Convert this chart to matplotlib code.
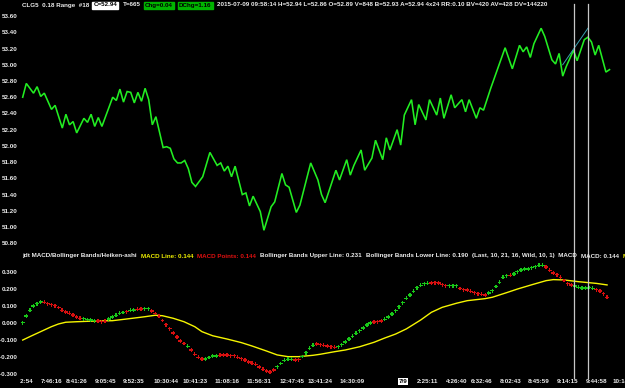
import matplotlib
matplotlib.use("Agg")
import matplotlib.pyplot as plt
import matplotlib.transforms as mtransforms
from matplotlib.lines import Line2D

plt.rcParams['font.family'] = ['Liberation Sans', 'DejaVu Sans']
plt.rcParams['font.weight'] = 'bold'

# -------------------------------
# Data (bar index = one range bar)
# -------------------------------
price_bars = [0, 1, 3, 4, 5, 6, 8, 9, 11, 12, 13, 14, 15, 17, 18, 19, 20, 21, 22,
              25, 26, 27, 28, 29, 30, 31, 32, 33, 34, 35, 36, 37, 39, 40, 41, 42, 43,
              44, 45, 46, 47, 48, 50, 52, 54, 55, 56, 57, 58, 59, 61, 62, 63, 64, 66,
              67, 69, 70, 72, 73, 74, 76, 77, 80, 82, 83, 84, 87, 88, 90, 91, 92, 94,
              95, 97, 98, 100, 101, 102, 104, 105, 106, 108, 109, 110, 112, 113, 115,
              116, 117, 119, 120, 122, 123, 124, 126, 127, 128, 130, 134, 136, 138,
              139, 140, 141, 142, 144, 145, 147, 148, 149, 150, 151, 152, 153, 154,
              156, 157, 158, 159, 160, 162, 163]
price_vals = [52.60, 52.77, 52.65, 52.73, 52.61, 52.65, 52.45, 52.50, 52.22, 52.39,
              52.26, 52.30, 52.16, 52.34, 52.29, 52.39, 52.24, 52.35, 52.24,
              52.60, 52.56, 52.70, 52.54, 52.67, 52.66, 52.53, 52.66, 52.55, 52.71,
              52.57, 52.26, 52.36, 51.98, 51.99, 51.97, 51.84, 51.79,
              51.79, 51.82, 51.72, 51.55, 51.50, 51.62, 51.92, 51.76, 51.79, 51.69,
              51.75, 51.62, 51.75, 51.40, 51.42, 51.26, 51.38, 51.19,
              50.96, 51.25, 51.31, 51.66, 51.52, 51.49, 51.18, 51.27, 51.79, 51.58,
              51.40, 51.30, 51.70, 51.58, 51.83, 51.64, 51.76, 51.95,
              51.70, 51.85, 52.07, 51.83, 52.10, 51.95, 52.20, 52.01, 52.38, 52.57,
              52.26, 52.51, 52.32, 52.57, 52.38,
              52.59, 52.34, 52.63, 52.47, 52.57, 52.42, 52.57, 52.34, 52.47, 52.44,
              52.71, 53.21, 52.95, 53.24,
              53.16, 53.22, 53.09, 53.26, 53.45, 53.35, 53.06, 53.01, 53.14, 52.86,
              52.98, 53.08, 53.18, 53.05,
              53.31, 53.34, 53.28, 53.12, 53.24, 52.91, 52.94]

trend_bars = [150, 157]
trend_vals = [53.00, 53.45]

cursor_bars = [153, 157]

macd_vals = [0.002, 0.041, 0.074, 0.100, 0.114, 0.123, 0.121, 0.114, 0.108, 0.102,
             0.091, 0.075, 0.065, 0.057, 0.048, 0.036, 0.028, 0.026, 0.021, 0.018,
             0.014, 0.012, 0.008, 0.011, 0.024, 0.036, 0.046, 0.057, 0.062, 0.067,
             0.074, 0.077, 0.080, 0.082, 0.084, 0.085, 0.071, 0.056, 0.040, 0.015,
             -0.009, -0.033, -0.057, -0.081, -0.105, -0.119, -0.136, -0.157, -0.182, -0.200,
             -0.210, -0.209, -0.201, -0.193, -0.192, -0.189, -0.186, -0.186, -0.190, -0.191,
             -0.199, -0.207, -0.215, -0.227, -0.235, -0.241, -0.256, -0.270, -0.280, -0.286,
             -0.274, -0.255, -0.236, -0.218, -0.211, -0.212, -0.216, -0.213, -0.195, -0.172,
             -0.148, -0.130, -0.122, -0.126, -0.130, -0.133, -0.137, -0.141, -0.137, -0.126,
             -0.110, -0.093, -0.077, -0.060, -0.045, -0.029, -0.011, 0.001, 0.006, 0.008,
             0.012, 0.022, 0.036, 0.054, 0.072, 0.096, 0.120, 0.144, 0.165, 0.186,
             0.206, 0.221, 0.231, 0.232, 0.234, 0.236, 0.234, 0.225, 0.218, 0.218,
             0.218, 0.218, 0.202, 0.195, 0.193, 0.186, 0.178, 0.172, 0.168, 0.165,
             0.176, 0.190, 0.214, 0.238, 0.268, 0.277, 0.279, 0.287, 0.301, 0.310,
             0.316, 0.316, 0.324, 0.329, 0.338, 0.338, 0.328, 0.308, 0.293, 0.282,
             0.268, 0.249, 0.230, 0.223, 0.217, 0.209, 0.205, 0.205, 0.208, 0.203,
             0.196, 0.188, 0.171, 0.150]
macd_dir = ("GGGGGG RRRRRRRRRRR GGGG RRR GGGGG R GG RR GG RRRRRRRRRR G RRRR GGGG "
            "RRRRRRRRRRRRRRRR GGGGG RR GGGG RRRRRR GGGGGGGGGG RRR GGGGGGGGGGGGG "
            "RRRRR GGG RRRRRRRR GGGGGG R GGGGGGGGG RRRRRRRR GGGGGG RRRR").replace(" ", "")

line_bars = [0, 2, 5, 8, 10, 12, 15, 20, 25, 29, 34, 37, 39, 42, 45, 48, 50, 53, 57,
             61, 64, 68, 71, 74, 77, 81, 83, 87, 90, 94, 98, 101, 104, 107, 111, 114,
             117, 121, 124, 129, 131, 135, 138, 142, 146, 148, 151, 155, 160, 163]
line_vals = [-0.099, -0.079, -0.050, -0.021, -0.005, 0.005, 0.008, 0.012, 0.014, 0.024,
             0.037, 0.046, 0.043, 0.028, 0.008, -0.021, -0.050, -0.074, -0.093,
             -0.114, -0.134, -0.163, -0.186, -0.196, -0.196, -0.188, -0.182, -0.167,
             -0.157, -0.138, -0.112, -0.087, -0.064, -0.034, 0.018, 0.063,
             0.092, 0.116, 0.131, 0.143, 0.151, 0.178, 0.199, 0.224, 0.248, 0.254,
             0.252, 0.242, 0.232, 0.223]

tick_bars = [0, 8, 15, 23, 31, 40, 48, 57, 66, 75, 83, 92, 106, 113, 121, 128, 136,
             144, 152, 160, 168]
tick_labels = ["7:12:54", "7:46:16", "8:41:26", "9:05:45", "9:52:35", "10:30:44",
               "10:41:23", "11:08:16", "11:56:31", "12:47:45", "13:41:24", "14:30:09",
               "7/9", "2:25:11", "4:26:40", "6:32:46", "8:02:43", "8:45:59", "9:14:15",
               "9:44:58", "10:14:22"]

price_ticks = [50.8, 51.0, 51.2, 51.4, 51.6, 51.8, 52.0, 52.2, 52.4, 52.6, 52.8,
               53.0, 53.2, 53.4, 53.6]
macd_ticks = [-0.3, -0.2, -0.1, 0.0, 0.1, 0.2, 0.3]

# -------------------------------
# Figure
# -------------------------------
W, H = 625, 388
fig = plt.figure(figsize=(W / 100, H / 100), dpi=100, facecolor="black")
FS = 4.5
TXT = "#ececec"


def px_box(x0, y0, x1, y1):
    return [x0 / W, 1 - y1 / H, (x1 - x0) / W, (y1 - y0) / H]


ax1 = fig.add_axes(px_box(20, 10, 625, 250))
ax2 = fig.add_axes(px_box(20, 250, 625, 376))

for ax in (ax1, ax2):
    ax.set_facecolor("black")
    for s in ax.spines.values():
        s.set_visible(False)
    ax.tick_params(length=0, colors=TXT, labelsize=FS, pad=1.5)
    ax.set_xlim(-0.75, 167.3)

ax1.set_ylim(50.717, 53.675)
ax1.set_yticks(price_ticks)
ax1.set_yticklabels([f"{v:.2f}" for v in price_ticks])
ax1.set_xticks([])
ax1.plot(price_bars, price_vals, color="#22ee22", lw=1.15, solid_joinstyle="miter")
ax1.plot(trend_bars, trend_vals, color="#3a9fb0", lw=0.7)

ax2.set_ylim(-0.309, 0.427)
ax2.set_yticks(macd_ticks)
ax2.set_yticklabels([f"{v:.3f}" for v in macd_ticks])
ax2.plot(line_bars, line_vals, color="#f5f500", lw=1.0, zorder=2)
colors = ["#19c819" if d == "G" else "#d81010" for d in macd_dir]
ax2.scatter(range(len(macd_vals)), macd_vals, c=colors, marker="P", s=8,
            linewidths=0, zorder=3)

ax2.set_xticks(tick_bars)
ax2.set_xticklabels(tick_labels)
ax2.tick_params(axis="x", pad=2.2)
clip = mtransforms.Bbox([[20, 0], [625, 388]])
for t in ax2.xaxis.get_major_ticks():
    t.label1.set_clip_box(clip)
    t.label1.set_clip_on(True)
for t in ax2.yaxis.get_major_ticks():
    t.label1.set_clip_box(mtransforms.Bbox([[0, 388 - 376], [20, 388]]))
    t.label1.set_clip_on(True)
lab = ax2.get_xticklabels()[tick_labels.index("7/9")]
lab.set_color("black")
lab.set_bbox(dict(facecolor="white", edgecolor="none", pad=0.6))

# cursor lines across both panels
trans = mtransforms.blended_transform_factory(ax1.transData, fig.transFigure)
for b in cursor_bars:
    fig.add_artist(Line2D([b, b], [1 - 378 / H, 1 - 4 / H], transform=trans,
                          color="#c8c8c8", lw=0.9))

# -------------------------------
# Header texts, laid left to right without overlap
# -------------------------------
renderer = fig.canvas.get_renderer()


def header_row(y, items, gap=4):
    end = 0
    for x, s, color, box in items:
        tc = "black" if box else color
        bb = None
        if box:
            bb = dict(facecolor=box, edgecolor=box, pad=0.7)
        x = max(x, end + gap)
        t = fig.text(x / W, 1 - y / H, s, color=tc, fontsize=FS, va="center",
                     ha="left", bbox=bb)
        end = t.get_window_extent(renderer).x1
        if box:
            end += 2


header_row(5, [
    (22, "CLG5  0.18 Range  #18", TXT, None),
    (91, "C=52.94", TXT, "white"),
    (118, "T=665", TXT, None),
    (136, "Chg=0.04", TXT, "#00b400"),
    (166, "DChg=1.16", TXT, "#00b400"),
    (200, "2015-07-09 09:58:14 H=52.94 L=52.86 O=52.89 V=848 B=52.93 A=52.94 "
          "4x24 RR:0.10 BV=420 AV=428 DV=144220", TXT, None),
])

header_row(256, [
    (22, "jdt MACD/Bollinger Bands/Heiken-ashi", TXT, None),
    (140, "MACD Line: 0.144", "#f0f000", None),
    (197, "MACD Points: 0.144", "#e01010", None),
    (260, "Bollinger Bands Upper Line: 0.231", TXT, None),
    (366, "Bollinger Bands Lower Line: 0.190", TXT, None),
    (453, "(Last, 10, 21, 16, Wild, 10, 1)  MACD", TXT, None),
    (558, "MACD: 0.144", TXT, None),
    (621, "MACD", "#f0f000", None),
])

fig.savefig("out.png", dpi=100, facecolor="black")
plt.close(fig)
